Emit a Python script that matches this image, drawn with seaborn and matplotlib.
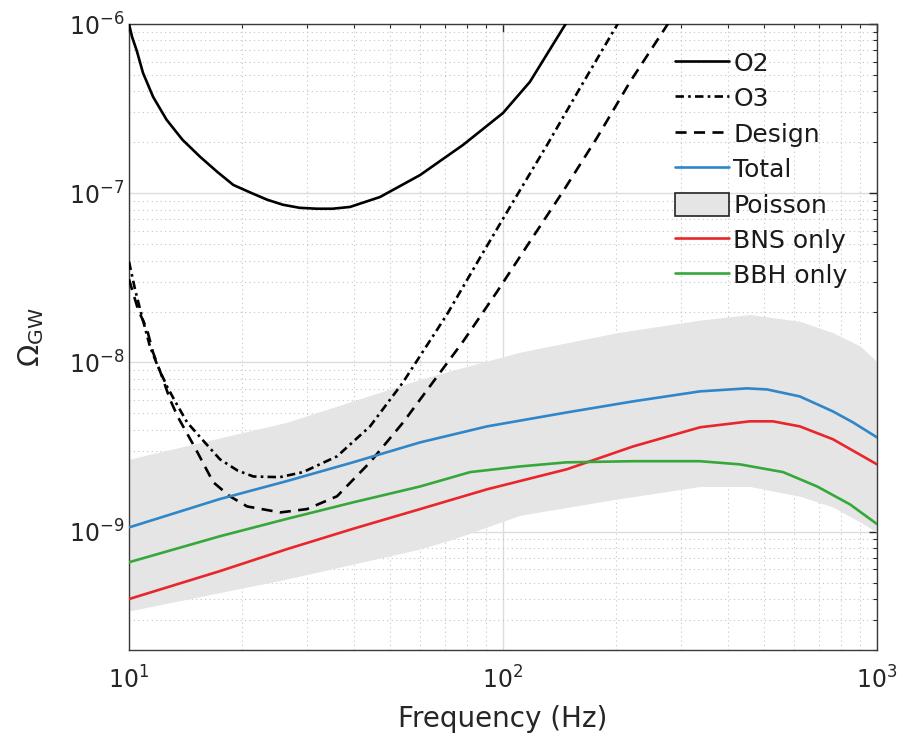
import numpy as np
import pandas as pd
import matplotlib
matplotlib.use("Agg")
import matplotlib.pyplot as plt
from matplotlib.patches import Patch
from matplotlib.ticker import LogLocator, NullFormatter
import seaborn as sb

# detector sensitivity curves
o2_freq = [10, 10.19, 10.5, 10.9, 11.6, 12.6, 13.9, 15.5, 17.2, 19.0, 21.1, 23.4, 25.8, 28.6,
           31.8, 35.0, 39.0, 46.9, 60.0, 78.2, 100, 118, 146.5, 155]
o2_omega = [1.0e-6, 8.4e-7, 6.9e-7, 5.14e-7, 3.71e-7, 2.72e-7, 2.07e-7, 1.64e-7, 1.34e-7,
            1.12e-7, 1.01e-7, 9.16e-8, 8.55e-8, 8.2e-8, 8.1e-8, 8.1e-8, 8.3e-8, 9.5e-8,
            1.28e-7, 1.93e-7, 2.98e-7, 4.55e-7, 9.87e-7, 1.2e-6]

o3_freq = [10, 10.38, 10.83, 11.38, 11.95, 12.64, 13.28, 14.3, 15.67, 17.5, 19.5, 21.5, 25.3,
           29.2, 36.0, 44.1, 54.0, 70.8, 86.8, 106.4, 131.2, 160.7, 201.8, 215]
o3_omega = [3.94e-8, 2.70e-8, 1.87e-8, 1.24e-8, 9.46e-9, 7.21e-9, 5.9e-9, 4.43e-9, 3.52e-9,
            2.68e-9, 2.30e-9, 2.12e-9, 2.10e-9, 2.25e-9, 2.79e-9, 4.19e-9, 7.62e-9, 1.92e-8,
            4.16e-8, 8.9e-8, 1.93e-7, 4.19e-7, 9.87e-7, 1.2e-6]

design_freq = [10, 10.57, 11.17, 11.59, 12.33, 12.87, 13.52, 15.02, 16.8, 18.6, 20.7, 25.4,
               29.9, 36.0, 44.1, 54.1, 78.2, 96.4, 118, 144.5, 178.2, 218.6, 274.8, 290]
design_omega = [3.1e-8, 2.06e-8, 1.57e-8, 1.15e-8, 7.94e-9, 6.05e-9, 4.75e-9, 3.13e-9, 1.96e-9,
                1.62e-9, 1.41e-9, 1.30e-9, 1.36e-9, 1.62e-9, 2.57e-9, 4.43e-9, 1.33e-8,
                2.62e-8, 5.18e-8, 1.02e-7, 2.12e-7, 4.55e-7, 9.87e-7, 1.2e-6]

# background predictions
total_freq = [10, 17.5, 26.4, 39.7, 60.0, 90.6, 148.3, 222.7, 336.4, 449, 508, 622, 762, 862, 1000]
total_omega = [1.06e-9, 1.56e-9, 1.99e-9, 2.57e-9, 3.37e-9, 4.19e-9, 5.07e-9, 5.89e-9, 6.75e-9,
               7.03e-9, 6.93e-9, 6.30e-9, 5.14e-9, 4.43e-9, 3.61e-9]

bbh_freq = [10, 17.5, 26.4, 39.7, 60.0, 81.7, 111, 148, 223, 336, 430, 561, 692, 847, 1000]
bbh_omega = [6.6e-10, 9.4e-10, 1.19e-9, 1.49e-9, 1.85e-9, 2.25e-9, 2.43e-9, 2.57e-9, 2.61e-9,
             2.61e-9, 2.50e-9, 2.25e-9, 1.85e-9, 1.45e-9, 1.11e-9]

bns_freq = [10, 17.5, 26.4, 39.7, 60.0, 90.6, 148.3, 222.7, 336.4, 457, 527, 622, 762, 1000]
bns_omega = [4.0e-10, 5.85e-10, 7.88e-10, 1.04e-9, 1.36e-9, 1.78e-9, 2.34e-9, 3.19e-9, 4.14e-9,
             4.49e-9, 4.49e-9, 4.19e-9, 3.52e-9, 2.50e-9]

poisson_freq = [10, 26.4, 60, 73.5, 111, 202, 336, 457, 622, 762, 902, 1000]
poisson_upper = [2.68e-9, 4.43e-9, 7.94e-9, 9.0e-9, 1.15e-8, 1.50e-8, 1.78e-8, 1.92e-8, 1.75e-8,
                 1.50e-8, 1.25e-8, 1.01e-8]
poisson_lower = [3.4e-10, 5.25e-10, 7.9e-10, 9.04e-10, 1.25e-9, 1.56e-9, 1.85e-9, 1.85e-9,
                 1.62e-9, 1.40e-9, 1.14e-9, 9.9e-10]

BLUE = "#2f86c8"
RED = "#e8262b"
GREEN = "#35a83a"
BAND = "#e5e5e5"

sb.set_style("white")
plt.rcParams["font.family"] = ["DejaVu Sans"]
plt.rcParams["mathtext.fontset"] = "dejavusans"


def draw(ax, freq, omega, color, label, dashes=None):
    df = pd.DataFrame({"f": freq, "omega": omega})
    sb.lineplot(data=df, x="f", y="omega", ax=ax, color=color, lw=1.9,
                label=label, legend=False, zorder=4)
    line = ax.lines[-1]
    line.set_solid_joinstyle("round")
    if dashes is not None:
        line.set_dashes(dashes)
    return line


fig = plt.figure(figsize=(9.02, 7.49), dpi=100)
ax = fig.add_axes([129 / 902, 1 - 650 / 749, 748 / 902, 626 / 749])
ax.set_xscale("log")
ax.set_yscale("log")

ax.fill_between(poisson_freq, poisson_lower, poisson_upper, color=BAND, lw=0, zorder=2)

l_o2 = draw(ax, o2_freq, o2_omega, "black", "O2")
l_o3 = draw(ax, o3_freq, o3_omega, "black", "O3", dashes=(3.2, 1.6, 1.0, 1.6))
l_des = draw(ax, design_freq, design_omega, "black", "Design", dashes=(4.2, 2.8))
l_tot = draw(ax, total_freq, total_omega, BLUE, "Total")
l_bns = draw(ax, bns_freq, bns_omega, RED, "BNS only")
l_bbh = draw(ax, bbh_freq, bbh_omega, GREEN, "BBH only")

ax.set_xlim(10, 1000)
ax.set_ylim(2e-10, 1e-6)

ax.xaxis.set_major_locator(LogLocator(base=10))
ax.yaxis.set_major_locator(LogLocator(base=10, numticks=10))
ax.xaxis.set_minor_locator(LogLocator(base=10, subs=np.arange(2, 10), numticks=20))
ax.yaxis.set_minor_locator(LogLocator(base=10, subs=np.arange(2, 10), numticks=20))
ax.xaxis.set_minor_formatter(NullFormatter())
ax.yaxis.set_minor_formatter(NullFormatter())

ax.set_axisbelow(True)
ax.grid(which="major", color="#dcdcdc", lw=1.0, ls="-")
ax.grid(which="minor", color="#c4c4c4", lw=0.8, ls=(0, (1, 3)))

ax.tick_params(which="both", direction="in", top=True, right=True, colors="#262626",
               labelsize=17)
ax.tick_params(which="major", length=6, width=1)
ax.tick_params(which="minor", length=3, width=0.8)
ax.tick_params(axis="x", pad=12)
for s in ax.spines.values():
    s.set_color("#3a3a3a")
    s.set_linewidth(1.0)
    s.set_zorder(3)

ax.set_xlabel("Frequency (Hz)", fontsize=20, color="#262626", labelpad=8)
ax.set_ylabel(r"$\Omega_{\mathrm{GW}}$", fontsize=21, color="#262626", labelpad=16)

handles = [l_o2, l_o3, l_des, l_tot,
           Patch(facecolor=BAND, edgecolor="#222222", lw=1.2),
           l_bns, l_bbh]
labels = ["O2", "O3", "Design", "Total", "Poisson", "BNS only", "BBH only"]
leg = fig.legend(handles, labels, loc="upper left",
                 bbox_to_anchor=(675 / 902, 1 - 51 / 749), frameon=False,
                 fontsize=18, handlelength=2.15, handleheight=1.05, handletextpad=0.18,
                 labelspacing=0.41, borderpad=0, borderaxespad=0)
for t in leg.get_texts():
    t.set_color("#1a1a1a")

fig.savefig("out.png", dpi=100)
